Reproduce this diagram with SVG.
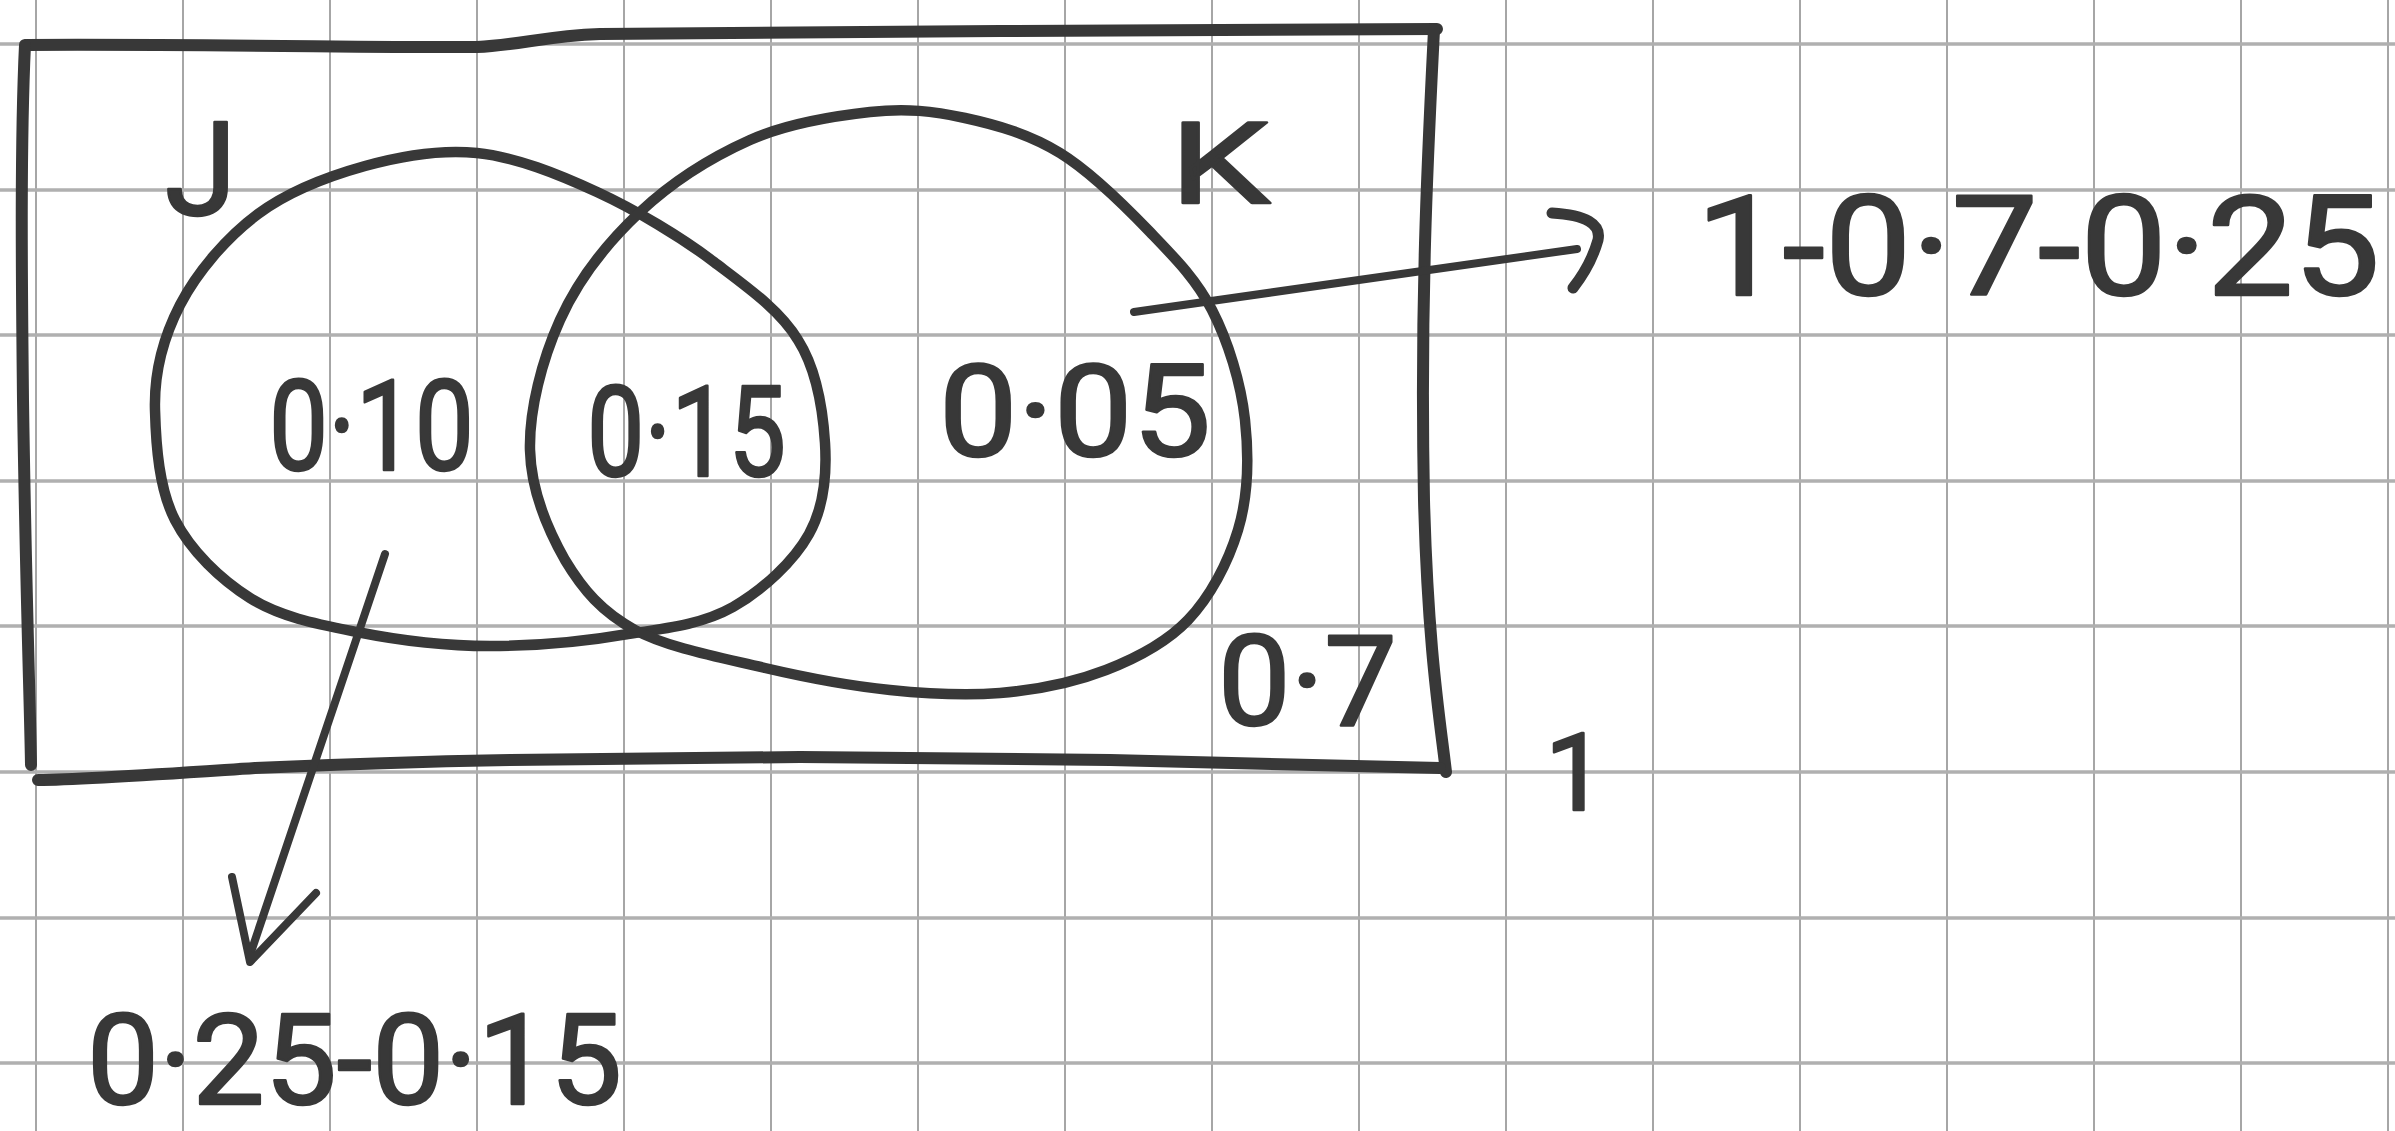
<svg xmlns="http://www.w3.org/2000/svg" width="2395" height="1131" viewBox="0 0 2395 1131">
<style>
.gv{stroke:#a6a6a6;stroke-width:2;fill:none}
.gh{stroke:#b0b0b0;stroke-width:3.5;fill:none}
.ink{stroke:#383838;fill:none;stroke-linecap:round;stroke-linejoin:round}
.box{stroke-width:12}
.ring{stroke-width:10.5}
.arr{stroke-width:8}
.head{stroke-width:11}
.t{font-family:Roboto,"Liberation Sans",Arial,sans-serif;fill:#383838;stroke:#383838;stroke-width:2.5;stroke-linejoin:round}
</style>
<rect width="2395" height="1131" fill="#ffffff"/>
<g id="grid">
<path class="gv" d="M36 0V1131M183 0V1131M330 0V1131M477 0V1131M624 0V1131M771 0V1131M918 0V1131M1065 0V1131M1212 0V1131M1359 0V1131M1506 0V1131M1653 0V1131M1800 0V1131M1947 0V1131M2094 0V1131M2241 0V1131M2388 0V1131"/>
<path class="gh" d="M0 44H2395M0 190H2395M0 335H2395M0 481H2395M0 626H2395M0 772H2395M0 918H2395M0 1063H2395"/>
</g>
<g id="universe">
<path class="ink box" d="M27 45 C200 44 400 48 477 47 C520 45 545 36 600 34 L1000 31 L1437 29"/>
<path class="ink box" d="M1434 30 C1428 150 1420 300 1424 500 C1428 650 1440 720 1446 772"/>
<path class="ink box" d="M1440 768 L1110 760 L800 757 L510 760 C400 762 300 766 255 768 C150 775 80 780 38 780"/>
<path class="ink box" d="M25 45 C20 150 22 300 23 400 C26 600 30 700 31 765"/>
</g>
<g id="setJ">
<path class="ink ring" d="M477 153 C516 157 558 174 597 192 C636 210 681 237 714 262 C747 287 780 310 798 340 C817 370 823 411 825 443 C827 475 824 507 809 534 C794 561 763 590 733 607 C703 624 669 628 628 634 C588 641 535 646 490 646 C445 646 397 640 357 632 C317 624 280 617 250 598 C220 579 191 551 175 520 C159 489 156 446 155 410 C154 374 163 338 180 305 C197 272 227 237 258 214 C289 191 329 176 365 166 C401 156 438 149 477 153 Z"/>
</g>
<g id="setK">
<path class="ink ring" d="M870 112 C906 108 933 111 965 118 C997 125 1029 134 1060 153 C1091 172 1125 206 1150 232 C1175 258 1196 279 1212 310 C1228 341 1241 383 1245 420 C1249 457 1248 497 1238 530 C1228 563 1210 597 1188 620 C1166 643 1137 658 1106 670 C1075 682 1036 690 1000 693 C964 696 929 694 890 690 C851 686 808 678 765 668 C723 658 668 648 635 630 C602 612 583 590 565 560 C548 530 531 490 530 450 C529 410 542 360 560 320 C578 280 608 242 640 212 C672 182 712 157 750 140 C788 123 834 116 870 112 Z"/>
</g>
<g id="labels">
<text class="t" x="165" y="215" font-size="130">J</text>
<text class="t" x="1170" y="203" font-size="113" textLength="100" lengthAdjust="spacingAndGlyphs">K</text>
<text class="t" x="269" y="470" font-size="126" textLength="205" lengthAdjust="spacingAndGlyphs">0·10</text>
<text class="t" x="587" y="476" font-size="126" textLength="199" lengthAdjust="spacingAndGlyphs">0·15</text>
<text class="t" x="939" y="456" font-size="128" textLength="272" lengthAdjust="spacingAndGlyphs">0·05</text>
<text class="t" x="1218" y="725" font-size="126" textLength="179" lengthAdjust="spacingAndGlyphs">0·7</text>
<text class="t" x="1545" y="810" font-size="108">1</text>
<text class="t" x="1696" y="295" font-size="140" textLength="684" lengthAdjust="spacingAndGlyphs">1-0·7-0·25</text>
<text class="t" x="87" y="1104" font-size="126" textLength="535" lengthAdjust="spacingAndGlyphs">0·25-0·15</text>
</g>
<g id="connectors">
<path class="ink arr" d="M1134 312 L1577 249"/>
<path class="ink head" d="M1552 213 Q1603 216 1598 240 Q1591 265 1573 288"/>
<path class="ink arr" d="M385 554 L250 955"/>
<path class="ink arr" d="M232 877 L250 962 L316 893"/>
</g>
</svg>
